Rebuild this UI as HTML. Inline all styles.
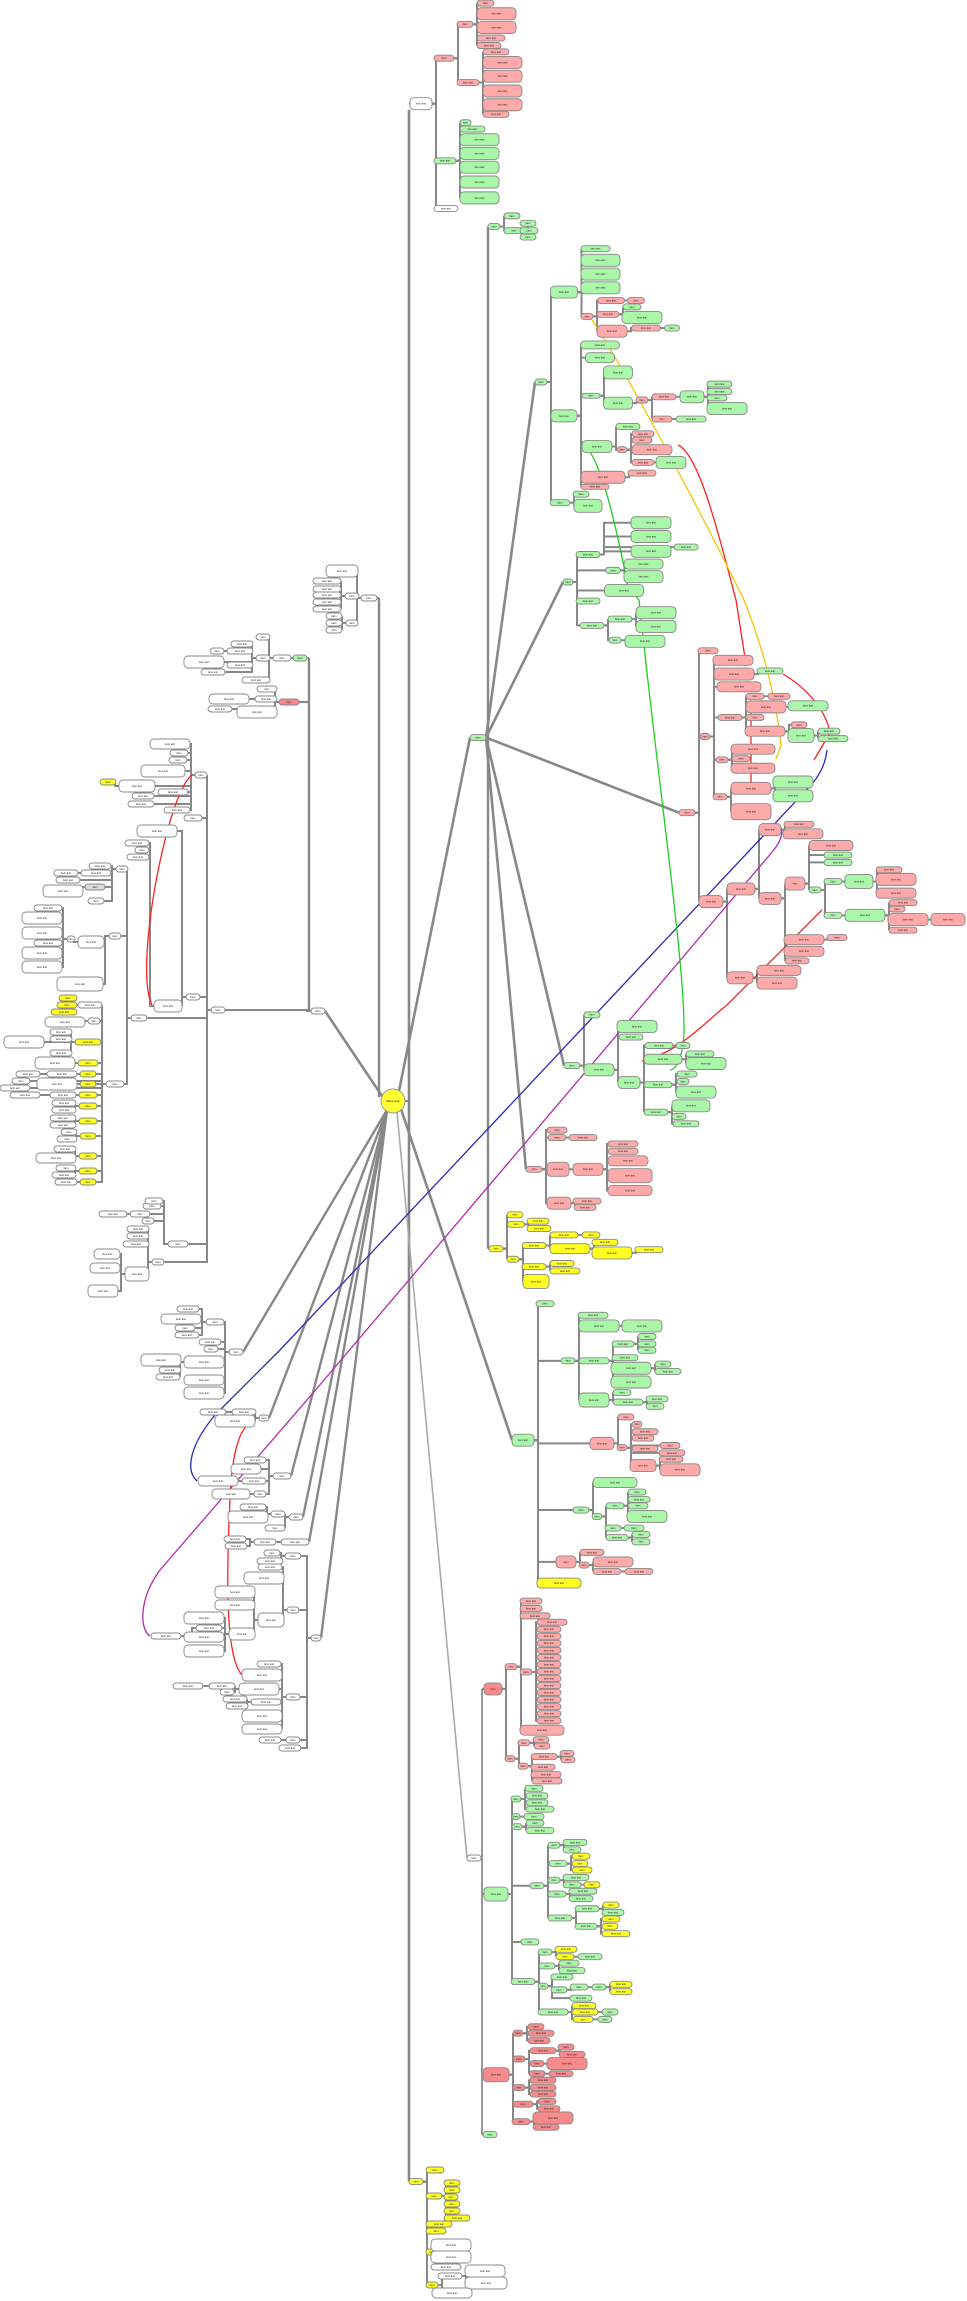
<!DOCTYPE html>
<html><head><meta charset="utf-8"><style>
html,body{margin:0;padding:0;background:#fff;}
svg{display:block;}
</style></head><body>
<svg id="s" xmlns="http://www.w3.org/2000/svg" width="967" height="2301" viewBox="0 0 967 2301" font-family="Liberation Sans, sans-serif">
<g id="E" fill="none" stroke="#888" stroke-width="2"></g>
<g id="S" fill="none"></g>
<g id="N"></g>
</svg>
<script>
(function(){
const NS="http://www.w3.org/2000/svg";
const N=[];let T=y=>y;
const Y3=y=>y*1.0582,Y4=y=>600+(y-600)*1.0582,Y5=y=>1200+(y-1200)*1.0582,Y6=y=>1800+(y-1800)*0.9217,I=y=>y;
const C={g:'#aaf7aa',p:'#ffaaaa',r:'#f78a8a',y:'#ffff22',w:'#ffffff'};
function n(x,y,w,h,c,p){const o={x:x,y:T(y),w:w,h:h,c:c,p:p};N.push(o);return o;}
function L(p,left,arr,c){return arr.map(a=>n(left+a[1]/2,a[0],a[1],a[2]||6,a[3]||c,p));}
function R(p,right,arr,c){return arr.map(a=>n(right-a[1]/2,a[0],a[1],a[2]||6,a[3]||c,p));}
const E=document.getElementById('E'),S=document.getElementById('S'),G=document.getElementById('N');
function path(d,col,w,par){const e=document.createElementNS(NS,'path');e.setAttribute('d',d);if(col){e.setAttribute('stroke',col);e.setAttribute('stroke-width',w||1);e.setAttribute('fill','none');}(par||E).appendChild(e);}
function line(x1,y1,x2,y2,col,w){path(`M${x1} ${y1}L${x2} ${y2}`,col||'#888',w||2.2);}

/* ===== right side ===== */
T=Y4; const hub=n(478,730,16,6,'g');
T=Y3;
const tp=n(421,98,22,12,'w');
const P1=n(444,55,20,6,'p',tp),G1=n(445,152,22,6,'g',tp),W1=n(446,197,24,6,'w',tp);
const P11=n(465,23,16,6,'p',P1),P12=n(468,78,22,6,'p',P1);
L(P11,477,[[3,17],[13,39,12],[26,39,12],[36,28],[43,24]],'p');
L(P12,483,[[49,26],[59,39,12],[72,39,12],[86,39,12],[99,39,12],[108,26]],'p');
L(G1,460,[[116,11],[122,25],[132,39,12],[145,39,12],[158,39,12],[172,39,12],[187,39,12]],'g');
const t2=n(494,214,12,6,'g');
n(512,204,16,6,'g',t2);const t22=n(514,218,20,6,'g',t2);
L(t22,520,[[211,16],[218,18],[224,16]],'g');
// A
const A=n(541,361,12,6,'g');
const A1=n(564,276,27,12,'g',A),A2=n(564,393,26,12,'g',A),A3=n(560,475,20,6,'g',A);
L(A1,581,[[235,29],[246,39,12],[259,39,12],[272,39,12]],'g');
const Ap=n(587,299,12,6,'p',A1);
const Ap1=n(611,284,27,6,'p',Ap),Ap2=n(608,297,22,6,'p',Ap),Ap3=n(612,313,30,12,'p',Ap);
n(636,284,17,6,'p',Ap1);n(632,290,18,6,'g',Ap2);n(642,300,40,12,'g',Ap2);const Ap31=n(646,310,29,6,'p',Ap3);n(672,310,15,6,'g',Ap31);
n(600,326,39,8,'g',A2);n(600,338,29,10,'g',A2);
const A23=n(591,374,18,5,'g',A2),A24=n(597,422,30,12,'g',A2),A25=n(603,451,44,12,'p',A2);n(595,460,28,5,'p',A2);
n(618,352,29,13,'g',A23);const A232=n(618,381,29,12,'g',A23);
const A2p=n(642,378,12,6,'p',A232);const A2p1=n(664,375,24,6,'p',A2p),A2p2=n(662,396,20,6,'p',A2p);
const A2g=n(692,375,24,12,'g',A2p1);L(A2g,707,[[363,25],[370,25],[376,20],[386,40,12]],'g');n(691,396,30,6,'g',A2p2);
n(628,403,24,6,'g',A24);const A24p=n(622,425,10,6,'p',A24);
L(A24p,632,[[410,22],[416,20],[425,40,10],[437,22]],'p');n(671,437,30,12,'g',A24p);
n(642,447,28,6,'p',A25);
n(581,467,16,6,'g',A3);n(588,478,28,13,'g',A3);
// B
const B=n(568,550,10,6,'g');
const B1=n(588,524,24,6,'g',B),B2=n(613,539,15,6,'g',B);
L(B1,631,[[494,40,12],[507,40,12],[521,40,12]],'g');n(686,517,24,6,'g',B1);
L(B2,624,[[533,39,10],[545,39,12]],'g');n(624,558,39,12,'g',B);
T=Y4;
const B3=n(588,601,24,6,'g',B),B4=n(592,624,24,6,'g',B);
const B41=n(620,618,24,6,'g',B4),B42=n(615,638,12,6,'g',B4);
n(656,612,40,12,'g',B41);n(656,625,40,12,'g',B41);n(645,639,40,12,'g',B42);
// C
const Cc=n(687,801,16,6,'p');
const C1=n(708,648,20,6,'p',Cc),C2=n(705,729,10,6,'p',Cc),C3=n(711,885,24,12,'p',Cc);
n(733,657,40,10,'p',C2);const C22=n(734,670,40,12,'p',C2);n(739,682,44,10,'p',C2);
const C24=n(730,711,24,6,'p',C2),C25=n(722,751,12,6,'p',C2),C26=n(720,786,14,6,'p',C2);
n(770,667,26,6,'g',C22);
const a1=n(755,691,18,6,'p',C24);n(779,691,22,6,'p',a1);const a2=n(766,701,40,12,'p',C24);n(808,700,40,10,'g',a2);
n(755,711,18,6,'p',C24);const a4=n(765,724,40,10,'p',C24);n(799,718,16,6,'p',a4);const a5=n(801,728,26,14,'g',a4);n(829,724,22,6,'g',a5);n(833,731,30,6,'g',a5);
n(753,741,44,10,'p',C25);n(741,750,18,6,'p',C25);n(753,759,44,10,'p',C25);
const b1=n(751,778,40,12,'p',C26);n(751,800,40,16,'p',C26);n(793,772,40,12,'g',b1);n(793,785,40,12,'g',b1);
const C31=n(741,873,28,12,'p',C3),C32=n(740,957,26,12,'p',C3);
const c1=n(770,817,22,12,'p',C31),c2=n(770,882,22,12,'p',C31);
n(799,812,30,6,'p',c1);n(803,821,40,10,'p',c1);
const d1=n(795,868,20,13,'p',c2);const d2=n(804,921,40,10,'p',c2);n(804,932,40,10,'p',c2);n(797,941,24,6,'p',c2);n(837,919,20,6,'p',d2);
n(831,832,44,10,'p',d1);L(d1,824,[[841,28],[848,28]],'g');const e1=n(815,874,12,6,'g',d1);
const f1=n(833,866,18,6,'g',e1),f2=n(833,898,18,6,'g',e1);
const g1=n(859,866,28,14,'g',f1);L(g1,876,[[855,26],[864,40,12],[877,40,10]],'p');
const g2=n(865,898,40,12,'g',f2);L(g2,889,[[886,28],[892,16]],'p');const g3=n(908,902,40,12,'p',g2);n(903,912,28,6,'p',g2);n(948,902,34,12,'p',g3);
n(779,950,44,10,'p',C32);n(777,962,40,12,'p',C32);
// D
const D=n(572,1040,16,6,'g');
n(592,992,16,6,'g',D);const D2=n(599,1044,30,12,'g',D);
n(637,1003,40,12,'g',D2);const D22=n(631,1013,24,6,'g',D2),D23=n(629,1056,22,12,'g',D2);
const h1=n(659,1021,28,6,'g',D23);n(683,1021,14,6,'g',h1);
const h2=n(663,1034,38,10,'g',D23);n(700,1029,28,6,'g',h2);n(706,1038,40,12,'g',h2);
const h3=n(658,1058,28,6,'g',D23);n(687,1048,20,6,'g',h3);n(683,1055,12,6,'g',h3);n(696,1065,40,12,'g',h3);
const h4=n(656,1084,24,6,'g',D23);n(691,1078,38,12,'g',h4);n(679,1088,14,6,'g',h4);n(686,1095,26,6,'g',h4);
// E
const Ee=n(534,1138,16,6,'p');
n(557,1101,20,6,'p',Ee);const E2=n(557,1108,18,6,'p',Ee);n(583,1108,28,6,'p',E2);
const E3=n(558,1138,22,14,'p',Ee);const E31=n(588,1138,30,12,'p',E3);
L(E31,608,[[1114,30],[1121,30],[1130,40,10],[1144,44,14],[1158,44,10]],'p');
T=Y5;
const E4=n(559,1203,24,12,'p',Ee);n(587,1201,28,6,'p',E4);n(585,1207,22,6,'p',E4);
// F
const F=n(496,1246,14,6,'y');
n(515,1214,16,6,'y',F);const F2=n(516,1223,17,6,'y',F);const F3=n(513,1256,12,6,'y',F);
n(538,1220,22,6,'y',F2);n(539,1227,24,6,'y',F2);
const F31=n(534,1243,24,6,'y',F3),F32=n(534,1263,24,6,'y',F3);n(536,1277,26,14,'y',F3);
const i1=n(564,1233,28,6,'y',F31);n(591,1233,18,6,'y',i1);const i2=n(570,1246,40,10,'y',F31);n(605,1240,26,6,'y',i2);const i3=n(612,1250,40,12,'y',i2);n(649,1247,28,6,'y',i3);
n(562,1260,24,6,'y',F32);n(565,1267,30,6,'y',F32);
// Gn
const Gn=n(523,1427,22,12,'g');
n(545,1298,18,6,'g',Gn);const Gb=n(568,1352,14,6,'g',Gn);const Gp=n(602,1430,24,12,'p',Gn);const Gc=n(581,1493,16,6,'g',Gn);const Gq=n(566,1542,20,12,'p',Gn);n(559,1562,44,10,'y',Gn);
n(593,1309,30,6,'g',Gb);const j2=n(599,1319,40,12,'g',Gb);n(642,1319,40,12,'g',j2);
const j3=n(594,1352,30,6,'g',Gb),j4=n(594,1389,30,14,'g',Gb);
const k1=n(623,1336,22,6,'g',j3);L(k1,638,[[1329,18],[1336,18],[1342,18]],'g');n(625,1349,26,6,'g',j3);const k3=n(631,1359,40,12,'g',j3);n(663,1355,16,6,'g',k3);n(668,1362,26,6,'g',k3);n(631,1372,40,12,'g',j3);
n(622,1382,18,6,'g',j4);const k5=n(628,1391,30,6,'g',j4);n(657,1388,22,6,'g',k5);n(655,1395,18,6,'g',k5);
n(626,1405,16,6,'p',Gp);const m1=n(622,1434,10,6,'p',Gp);L(m1,632,[[1412,10],[1419,26],[1425,22],[1435,26]],'p');const m2=n(643,1451,26,12,'p',m1);
n(670,1432,20,6,'p',m1);n(672,1439,26,6,'p',m1);n(671,1445,24,6,'p',m2);n(680,1455,40,12,'p',m2);
n(615,1467,44,10,'g',Gc);const o1=n(597,1499,10,6,'g',Gc);const o2=n(615,1489,18,6,'g',o1);L(o2,628,[[1476,18],[1483,22],[1489,20]],'g');n(647,1499,40,12,'g',o2);
const o3=n(613,1510,16,6,'g',o1);n(634,1510,20,6,'g',o3);const o4=n(617,1519,22,6,'g',o1);n(641,1516,18,6,'g',o4);n(641,1523,18,6,'g',o4);
n(592,1533,24,6,'p',Gq);const q1=n(584,1545,10,6,'p',Gq);n(613,1542,40,10,'p',q1);const q2=n(607,1551,28,6,'p',q1);n(639,1551,28,6,'p',q2);
// H
T=I;
const Wb=n(474,1858,14,6,'w');
T=Y5;
const H=n(493,1662,18,12,'r');
const H1=n(511,1641,12,6,'p',H),H2=n(510,1728,10,6,'p',H);
L(H1,520,[[1579,22],[1586,22],[1593,30]],'p');const H14=n(526,1646,12,6,'p',H1);n(542,1701,44,10,'p',H1);
for(let i=0;i<15;i++)n(549+(i?0:3),1599+i*6.65,i?24:30,6,'p',H14);
const H21=n(524,1713,12,6,'p',H2);n(541,1710,16,6,'p',H21);n(542,1716,16,6,'p',H21);
const H22=n(523,1735,10,6,'p',H2);const H221=n(544,1726,26,6,'p',H22);n(567,1723,14,6,'p',H221);n(568,1729,14,6,'p',H221);
n(543,1736,24,6,'p',H22);n(546,1743,30,6,'p',H22);n(547,1749,30,6,'p',H22);
T=Y6;
const Gr=n(496,1902,24,14,'g');
const Pr=n(496,2098,26,14,'r');
const Gs=n(490,2163,14,6,'g');
T=Y5;
const s1=n(516,1766,10,6,'g',Gr);n(534,1756,18,6,'g',s1);n(537,1763,22,6,'g',s1);
T=Y6;
n(537,1803,22,6,'g',s1);n(540,1810,28,6,'g',s1);
const s2=n(516,1818,8,6,'g',Gr);n(534,1818,20,6,'g',s2);
const s3=n(517,1829,10,6,'g',Gr);n(535,1825,18,6,'g',s3);n(540,1833,28,6,'g',s3);
const u1=n(537,1893,14,6,'g',Gr),u2=n(530,1954,18,6,'g',Gr),u3=n(523,1997,24,6,'g',Gr);
const v1=n(554,1849,12,6,'g',u1);n(575,1846,24,6,'g',v1);n(572,1854,18,6,'g',v1);
const v2=n(558,1869,18,6,'g',u1);L(v2,572,[[1861,18],[1869,16],[1876,20]],'y');
const v3=n(554,1887,12,6,'g',u1);n(576,1884,26,6,'g',v3);const v32=n(572,1892,18,6,'g',v3);n(592,1892,16,6,'y',v32);
const v4=n(557,1902,18,6,'g',u1);n(583,1899,28,6,'g',v4);n(581,1907,24,6,'g',v4);
const v5=n(560,1928,24,6,'g',u1);const v51=n(587,1918,24,6,'g',v5),v52=n(586,1937,22,6,'g',v5);
n(611,1914,16,6,'y',v51);n(613,1922,22,6,'g',v51);L(v52,602,[[1929,18],[1937,16],[1945,28]],'y');
const w1=n(545,1965,14,6,'g',u3);n(566,1962,22,6,'y',w1);const w12=n(565,1970,18,6,'y',w1);n(590,1970,24,6,'g',w12);
const w2=n(547,1980,16,6,'g',u3);n(569,1977,20,6,'g',w2);n(572,1985,26,6,'g',w2);
const w3=n(543,2002,10,6,'g',u3);n(562,1992,22,6,'g',w3);const w32=n(559,2006,16,6,'g',w3);const w33=n(579,2003,18,6,'g',w32);const w34=n(599,2003,14,6,'g',w33);n(621,2000,22,6,'y',w34);n(621,2008,22,6,'y',w34);n(581,2015,22,6,'g',w3);
const w4=n(553,2030,30,6,'g',u3);n(584,2023,24,6,'y',w4);const w42=n(585,2030,26,6,'y',w4);n(610,2030,16,6,'g',w42);const w43=n(583,2038,20,6,'y',w4);n(605,2038,14,6,'g',w43);
const x1=n(518,2053,10,6,'r',Pr);L(x1,528,[[2046,16],[2053,26],[2061,22]],'r');
const x2=n(519,2081,12,6,'r',Pr);const x21=n(543,2072,26,6,'r',x2);n(566,2068,16,6,'r',x21);n(572,2076,26,6,'r',x21);
const x22=n(537,2086,14,6,'r',x2);n(567,2086,40,12,'r',x22);const x23=n(537,2097,16,6,'r',x2);n(561,2097,24,6,'r',x23);
const x3=n(519,2112,12,6,'r',Pr);L(x3,530,[[2104,26],[2112,26],[2119,26]],'r');
const x4=n(523,2130,20,6,'r',Pr);n(547,2127,18,6,'r',x4);n(549,2135,22,6,'r',x4);
const x5=n(521,2149,18,6,'r',Pr);n(553,2145,40,12,'r',x5);n(546,2155,26,6,'r',x5);
// bottom yellow
const By=n(416,2214,14,6,'y');
T=I;
n(435,2170,18,6,'y',By);const by2=n(434,2196,16,6,'y',By);
L(by2,444,[[2183,16],[2190,16],[2197,14],[2204,16],[2211,16],[2218,26]],'y');
n(439,2224,26,6,'y',By);n(436,2231,20,6,'y',By);
const by5=n(432,2252,12,6,'y',By);n(451,2245,40,12,'w',by5);n(451,2257,40,12,'w',by5);n(446,2267,30,6,'w',by5);
const by6=n(432,2285,12,6,'y',By);const by61=n(450,2276,24,6,'w',by6);n(485,2271,40,12,'w',by61);n(486,2283,42,12,'w',by61);
n(452,2293,40,10,'w',by6);

/* ===== left side ===== */
const tw=n(369,598,16,6,'w');
const tw1=n(352,596,14,6,'w',tw),tw2=n(352,623,12,6,'w',tw);n(342,571,32,12,'w',tw);
R(tw1,341,[[581,28],[589,28],[595,28],[602,28],[609,28]],'w');
R(tw2,342,[[616,16],[623,16],[630,16]],'w');
const lg=n(300,658,14,6,'g');
const lg1=n(282,658,18,6,'w',lg);n(263,637,14,6,'w',lg1);n(256,680,28,6,'w',lg1);
const lg2=n(263,658,14,6,'w',lg1);R(lg2,253,[[644,22],[651,26],[665,26]],'w');
n(217,651,14,6,'w',lg2);n(204,662,40,12,'w',lg2);n(213,672,24,6,'w',lg2);
const lp=n(289,702,20,6,'r');
R(lp,277,[[689,20],[699,22],[712,40,12]],'w');n(229,699,40,10,'w',lp);n(220,709,24,6,'w',lp);
const lh=n(318,1011,14,6,'w');
const lh1=n(218,1010,14,6,'w',lh);
const m7a=n(201,775,12,6,'w',lh1),m7b=n(193,818,18,6,'w',lh1),m7c=n(193,997,14,6,'w',lh1);
n(170,744,40,10,'w',m7a);n(179,753,18,6,'w',m7a);n(178,760,18,6,'w',m7a);n(163,771,44,12,'w',m7a);n(173,792,30,6,'w',m7a);n(177,810,26,6,'w',m7a);
const q7=n(137,786,36,12,'w',m7a);n(108,782,16,6,'y',q7);n(143,796,22,6,'w',m7a);n(141,804,26,6,'w',m7a);
n(157,831,40,12,'w',m7c);const r7=n(168,1006,28,12,'w',m7c);
R(r7,149,[[843,24],[850,14],[857,22]],'w');
const l9=n(139,1018,16,6,'w',lh1);
const l91=n(122,869,12,6,'w',l9),l92=n(115,936,12,6,'w',l9),l93=n(115,1084,18,6,'w',l9);
n(100,866,22,6,'w',l91);n(96,873,30,6,'w',l91);n(66,873,24,6,'w',l91);n(68,880,24,6,'w',l91);
const l912=n(95,887,20,6,'#ddd',l91);n(63,891,40,12,'w',l912);n(96,901,16,6,'w',l91);
const l921=n(91,942,26,12,'w',l92);const l922=n(71,939,8,6,'w',l921);
R(l922,62,[[908,28],[918,40,12],[933,40,12],[943,28],[953,40,12],[967,40,12]],'w');n(80,984,46,14,'w',l92);
const YL=[[998,18],[1005,20],[1012,26]];
const yA=n(90,1005,24,6,'w',l93);R(yA,77,YL,'y');
const yB=n(94,1021,12,6,'w',l93);n(65,1022,40,10,'w',yB);
[[1042,26,[[1039,22],[1032,22],[1053,22]]],[1063,20,[[1063,40,12]]],[1074,16,[[1074,30]]],[1084,16,[[1084,40,12]]],[1095,18,[[1095,26]]],[1106,18,[[1103,24],[1110,24]]],[1121,18,[[1118,26],[1125,26]]],[1136,16,[[1132,16],[1139,20]]],[1156,18,[[1158,40,10],[1149,22]]],[1171,18,[[1168,20],[1175,24]]],[1182,16,[[1182,22]]]].forEach(r=>{
 const yy=n(88,r[0],r[1],6,'y',l93);const xr=yy.x-r[1]/2-3;
 r[2].forEach(cc=>{n(xr-cc[1]/2,cc[0],cc[1],cc[2]||6,'w',yy);});
});
n(24,1042,40,12,'w',l93);n(21,1081,18,6,'w',l93);n(15,1088,30,6,'w',l93);n(25,1095,30,6,'w',l93);n(28,1074,24,6,'w',l93);
// zoom8 area
const z1=n(178,1244,20,6,'w',lh1);
n(152,1206,18,6,'w',z1);n(154,1201,18,6,'w',z1);const z12=n(140,1214,20,6,'w',z1);n(113,1214,28,6,'w',z12);n(148,1221,12,6,'w',z1);
const z2=n(158,1262,12,6,'w',lh1);
R(z2,149,[[1229,22],[1236,22],[1244,26]],'w');const z24=n(137,1274,24,14,'w',z2);
n(107,1254,26,10,'w',z24);n(105,1268,30,10,'w',z24);n(103,1291,30,12,'w',z24);
const h8=n(236,1352,14,6,'w');
const h81=n(215,1322,18,6,'w',h8);n(210,1342,22,6,'w',h8);n(211,1349,14,6,'w',h8);
const h82=n(204,1362,40,12,'w',h8);n(204,1380,40,10,'w',h8);n(204,1393,40,12,'w',h8);
n(161,1360,40,12,'w',h82);n(170,1370,22,6,'w',h82);n(168,1377,24,6,'w',h82);
n(188,1309,22,6,'w',h81);n(181,1319,40,10,'w',h81);n(185,1328,20,6,'w',h81);n(187,1335,24,6,'w',h81);
const h9=n(264,1418,10,6,'w');const h91=n(244,1412,24,6,'w',h9);n(213,1412,26,6,'w',h91);n(235,1421,40,12,'w',h9);
const ha=n(282,1476,18,6,'w');
n(255,1460,22,6,'w',ha);n(246,1469,30,10,'w',ha);const ha3=n(254,1481,24,6,'w',ha);n(218,1481,40,10,'w',ha3);
const ha4=n(260,1494,12,6,'w',ha);n(231,1494,38,10,'w',ha4);
const hb=n(296,1517,14,6,'w');const hb1=n(278,1514,14,6,'w',hb);n(253,1507,26,6,'w',hb1);n(248,1517,40,12,'w',hb1);n(275,1528,20,6,'w',hb);
const hc=n(295,1542,28,6,'w');const hc1=n(265,1542,22,6,'w',hc);n(235,1539,22,6,'w',hc1);n(236,1546,22,6,'w',hc1);
const hd=n(316,1638,10,6,'w');
const hd1=n(293,1556,16,6,'w',hd);n(272,1553,16,6,'w',hd1);n(270,1561,26,6,'w',hd1);
const hd2=n(293,1610,12,6,'w',hd);n(270,1567,24,6,'w',hd2);n(264,1578,40,12,'w',hd2);const hd23=n(271,1620,26,14,'w',hd2);
n(235,1592,40,12,'w',hd23);n(235,1605,40,10,'w',hd23);const hd233=n(242,1634,26,12,'w',hd23);
n(204,1618,40,12,'w',hd233);const h2b=n(209,1628,26,6,'w',hd233);n(166,1636,30,6,'w',h2b);n(204,1637,40,10,'w',hd233);n(204,1651,40,12,'w',hd233);
const hd3=n(293,1697,14,6,'w',hd);
n(269,1664,24,6,'w',hd3);n(262,1675,40,12,'w',hd3);const hd33=n(259,1689,40,12,'w',hd3);const hd34=n(266,1702,30,6,'w',hd3);n(262,1716,40,12,'w',hd3);n(262,1729,40,10,'w',hd3);
const e33=n(222,1686,26,6,'w',hd33);n(188,1686,30,6,'w',e33);n(227,1692,14,6,'w',hd33);
n(235,1699,24,6,'w',hd34);n(237,1706,22,6,'w',hd34);
const hd4=n(293,1740,14,6,'w',hd);n(270,1740,22,6,'w',hd4);n(290,1748,22,6,'w',hd);

/* ===== trunk / main lines ===== */
const cx=393,cy=1101;
line(409,tp.y+6,409,By.y,'#888',2.6);
line(409,tp.y,tp.x-tp.w/2,tp.y);line(409,By.y,By.x-By.w/2,By.y);
line(cx,cy,409,cy);
line(488,t2.y,488,F.y,'#888',2.4);line(488,t2.y,t2.x-6,t2.y);line(488,F.y,F.x-7,F.y);
line(cx+6,cy-10,hub.x-8,hub.y,'#888',2.6);
[A,B,Cc,D,Ee].forEach(o=>line(hub.x+8,hub.y,o.x-o.w/2,o.y,'#888',2.6));
line(cx+8,cy+8,Gn.x-Gn.w/2,Gn.y,'#888',2.6);
line(cx+4,cy+11,Wb.x-7,Wb.y,'#aaa',1.6);
line(Wb.x+7,Wb.y,482,Wb.y);line(482,H.y,482,Gs.y,'#999',2);
[H,Gr,Pr,Gs].forEach(o=>line(482,o.y,o.x-o.w/2,o.y));
// left trunk lines
line(379,tw.y,379,cy-4,'#888',2.4);line(tw.x+8,tw.y,379,tw.y);
line(309,lg.y,309,lh.y,'#888',2.4);line(lg.x+7,lg.y,309,lg.y);line(lp.x+10,lp.y,309,lp.y);
line(lh.x+7,lh.y,cx-11,cy-5,'#888',2.6);
[h8,h9,ha,hb,hc,hd].forEach(o=>line(o.x+o.w/2,o.y,cx-6,cy+9,'#888',2.4));

/* ===== edges ===== */
N.forEach(ch=>{const p=ch.p;if(!p)return;
 if(ch.x>=p.x){const xa=p.x+p.w/2,bx=xa+4,xb=ch.x-ch.w/2;path(`M${xa} ${p.y}H${bx}V${ch.y}H${xb}`);}
 else{const xa=p.x-p.w/2,bx=xa-4,xb=ch.x+ch.w/2;path(`M${xa} ${p.y}H${bx}V${ch.y}H${xb}`);}
});
/* ===== special curves ===== */
path('M197 1481C185 1470 190 1445 215 1415L280 1350L812 784C822 772 826 760 827 750','#2b2bb8',1.3,S);
path('M150 1636C140 1630 138 1600 160 1570L313 1393L773 851C785 836 785 822 771 824','#b02cb0',1.3,S);
path('M242 1675C228 1660 225 1600 230 1500C232 1450 240 1425 255 1420','#ff2020',1.3,S);
path('M152 1005C140 980 150 900 165 840C175 800 185 780 192 775','#ff2020',1.3,S);
path('M642 1061C680 1052 705 1022 727 1005L822 910','#ff2020',1.3,S);
path('M678 445C700 455 720 540 736 600L745 658','#ff2020',1.3,S);
path('M783 674C800 684 825 705 830 733L814 760','#ff2020',1.3,S);
path('M751 707V790','#ff2020',1.3,S);
path('M588 314C620 360 700 510 744 600C760 640 775 690 781 745L776 759','#f5c400',1.3,S);
path('M581 441C600 455 615 520 628 587L639 600C660 800 690 1000 683 1045C680 1062 675 1070 670 1070','#22cc22',1.3,S);

/* ===== nodes ===== */
N.forEach(o=>{const r=document.createElementNS(NS,'rect');
 r.setAttribute('x',o.x-o.w/2);r.setAttribute('y',o.y-o.h/2);r.setAttribute('width',o.w);r.setAttribute('height',o.h);
 r.setAttribute('rx',Math.min(o.h/2,4));r.setAttribute('fill',C[o.c]||o.c);r.setAttribute('stroke','#888');r.setAttribute('stroke-width',0.9);G.appendChild(r);
 const t=document.createElementNS(NS,'text');t.setAttribute('x',o.x);t.setAttribute('y',o.y+0.9);t.setAttribute('font-size',2.6);
 t.setAttribute('text-anchor','middle');t.setAttribute('fill','#111');t.textContent=o.w>20?'item text':'item';G.appendChild(t);
});
const ci=document.createElementNS(NS,'circle');ci.setAttribute('cx',cx);ci.setAttribute('cy',cy);ci.setAttribute('r',12);ci.setAttribute('fill','#ffff33');ci.setAttribute('stroke','#999');ci.setAttribute('stroke-width',1);G.appendChild(ci);
const tt=document.createElementNS(NS,'text');tt.setAttribute('x',cx);tt.setAttribute('y',cy+1);tt.setAttribute('font-size',3);tt.setAttribute('text-anchor','middle');tt.textContent='Mind map';G.appendChild(tt);
})();
</script>
</body></html>
